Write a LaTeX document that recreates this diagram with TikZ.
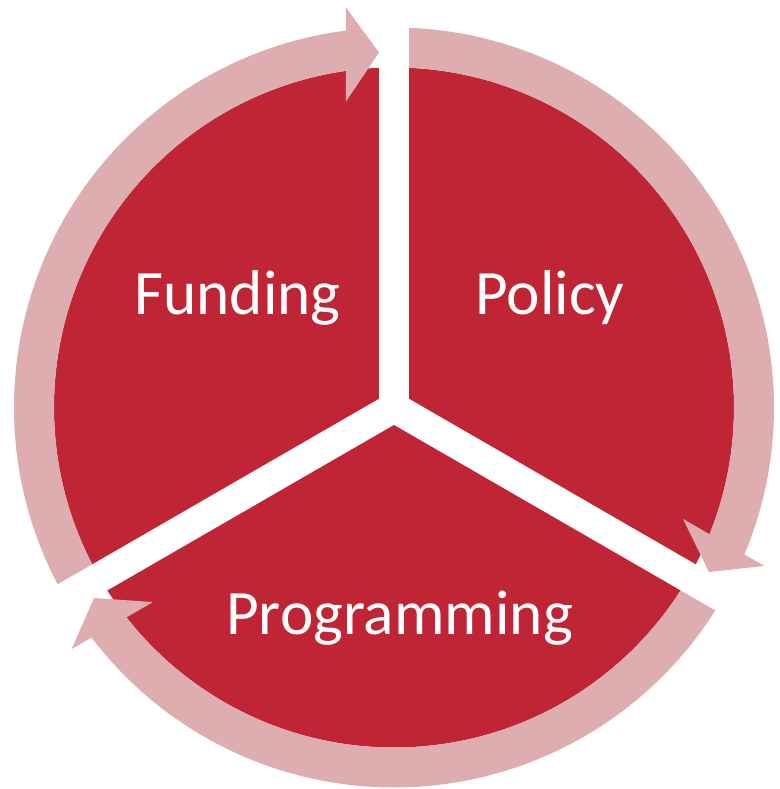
\documentclass[tikz,border=0pt]{standalone}
\usepackage{fontspec}
\setmainfont{Carlito}
\definecolor{wedgered}{RGB}{192,37,54}
\definecolor{ringpink}{RGB}{222,173,176}
\tikzset{
  ring/.style={fill=ringpink},
  gapline/.style={draw=white, line width=0.6cm},
  wedgelabel/.style={text=white, anchor=base, font=\fontsize{36}{42}\selectfont}
}

\begin{document}
\begin{tikzpicture}[x=0.02cm, y=0.02cm]
\useasboundingbox (-394,-381.5) rectangle (386,407.5);
\fill[wedgered] (0,0) circle[radius=340];
% one arrow per wedge, head stops at gap \g
\foreach \g in {90,210,330} {
  \begin{scope}[rotate=\g]
    \fill[ring] (6:340) arc[start angle=6, end angle=120, radius=340] -- (120:380) arc[start angle=120, end angle=6, radius=380] -- cycle;
    \fill[ring] (355,15) -- (306,48) -- (400,48) -- cycle;
  \end{scope}
}
% white gaps between the wedges
\foreach \g in {90,210,330}
  \draw[gapline] (0,0) -- (\g:430);
\node[wedgelabel] (funding) at (-156.5,93.5) {Funding};
\node[wedgelabel] (policy) at (156,93.5) {Policy};
\node[wedgelabel] (programming) at (5.5,-226.5) {Programming};
\end{tikzpicture}
\end{document}
